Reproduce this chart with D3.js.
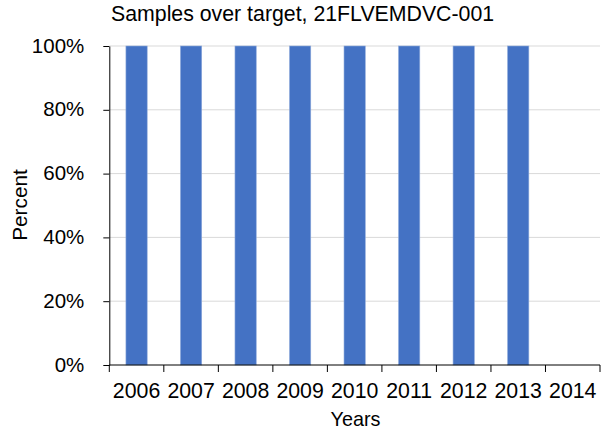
<!DOCTYPE html>
<html><head><meta charset="utf-8">
<script src="https://cdn.jsdelivr.net/npm/d3@7"></script>
<style>body{margin:0;background:#fff}svg{display:block}text{font-family:"Liberation Sans",Arial,sans-serif;fill:#000}</style>
</head><body>
<script>
const years = ["2006","2007","2008","2009","2010","2011","2012","2013","2014"];
const values = [100,100,100,100,100,100,100,100,0];
const yTicks = [0,20,40,60,80,100];
const title = "Samples over target, 21FLVEMDVC-001";

const FS = "21.3px";
const W=610,H=431, m={l:109.3,r:10,t:46,b:66};
const svg=d3.select("body").append("svg").attr("width",W).attr("height",H);
const x=d3.scaleBand().domain(years).range([m.l,600]).paddingInner(0.61).paddingOuter(0.305);
const xb=d3.scaleBand().domain(years).range([m.l,600]);
const y=d3.scaleLinear().domain([0,100]).range([365,46]);

svg.append("g").selectAll("line").data(yTicks.filter(d=>d>0)).join("line")
  .attr("x1",m.l).attr("x2",600).attr("y1",d=>y(d)).attr("y2",d=>y(d))
  .attr("stroke","#d9d9d9").attr("stroke-width",1);

svg.append("g").selectAll("rect").data(years.map((c,i)=>({c,v:values[i]})).filter(d=>d.v>0)).join("rect")
  .attr("x",d=>x(d.c)).attr("width",x.bandwidth())
  .attr("y",d=>y(d.v)).attr("height",d=>y(0)-y(d.v))
  .attr("fill","#4472C4").attr("stroke","#8eaadb").attr("stroke-width",0.6);

// y axis
const ya=svg.append("g").attr("transform",`translate(${m.l},0)`)
  .call(d3.axisLeft(y).tickValues(yTicks).tickFormat(d=>d+"%").tickSize(6).tickSizeOuter(0).tickPadding(19));
ya.select(".domain").attr("stroke","#000");
ya.selectAll(".tick line").attr("stroke","#000");
ya.selectAll("text").style("font-size","20.5px").attr("dy","0.3em").attr("font-family",null);

// x axis
const xa=svg.append("g").attr("transform",`translate(0,365)`);
xa.append("line").attr("x1",m.l).attr("x2",600).attr("y1",0).attr("y2",0).attr("stroke","#000");
const bounds=years.map(c=>xb(c)).concat([xb(years[years.length-1])+xb.bandwidth()]);
xa.selectAll("line.t").data(bounds).join("line").attr("class","t")
  .attr("x1",d=>d).attr("x2",d=>d).attr("y1",0).attr("y2",7).attr("stroke","#000");
xa.selectAll("text").data(years).join("text")
  .attr("x",d=>xb(d)+xb.bandwidth()/2).attr("y",33).attr("text-anchor","middle")
  .style("font-size",FS).text(d=>d);

svg.append("text").attr("x",111).attr("y",21).style("font-size",FS).text(title);
svg.append("text").attr("x",355.5).attr("y",425.5).attr("text-anchor","middle").style("font-size","19.8px").text("Years");
svg.append("text").attr("transform","translate(27,205) rotate(-90)").attr("text-anchor","middle").style("font-size","20.8px").text("Percent");
</script>
</body></html>
